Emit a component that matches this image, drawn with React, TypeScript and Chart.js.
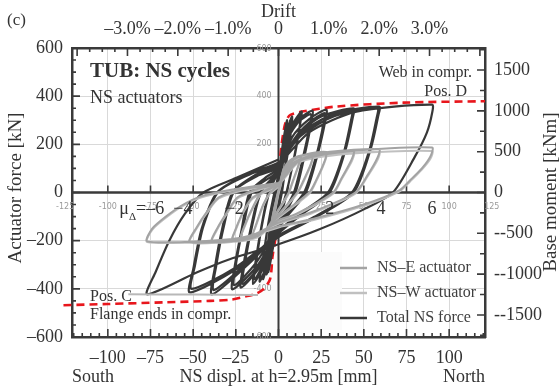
import React, { useEffect, useRef } from "react";
import { Chart, registerables } from "chart.js";

Chart.register(...registerables);

const SERIF = "'Liberation Serif', 'Times New Roman', serif";
const SANS = "'DejaVu Sans', sans-serif";
const MM_PER_PERCENT_DRIFT = 29.5; // 1% of h = 2.95 m
const LEVER_ARM_M = 2.95;

// ---- axis ticks ----
const xTicksMM = [-100, -75, -50, -25, 0, 25, 50, 75, 100];
const yTicksKN = [-600, -400, -200, 0, 200, 400, 600];
const momentTicks = [-1500, -1000, -500, 0, 500, 1000, 1500];
const driftTicks = [-3, -2, -1, 0, 1, 2, 3];
const ghostXTicks = [-125, -100, -75, -50, -25, 25, 50, 75, 100, 125];
const ghostYTicks = [600, 400, 200, -400, -600];

// ---- ductility labels ----
const ductilityLabels = ["−4", "−2", "2", "4", "6"];
const ductilityDispl = [-56, -26, 30, 60, 90];
const ductilityFirstLabelEnd = -67;

// ---- Total NS force [mm, kN] ----
const totalNS: [number, number][] = [
  [0, 0], [1, 90], [2, 160], [1, 60], [0, 10], [-1, -70], [-2.5, -170], [-1.5, -80], [0, -10],
  [1.5, 110], [3, 220], [5, 290], [3.5, 180], [1.5, 60], [0, -20], [-2, -150], [-4, -260], [-6, -330], [-4.5, -220], [-2.5, -100], [0, 30],
  [2, 150], [5, 260], [8, 315], [6.5, 210], [4, 100], [2, 0], [0, -70], [-4, -230], [-9, -360], [-7, -250], [-4.5, -120], [-2, 0], [0, 80],
  [3, 190], [6, 280], [7, 300], [5.5, 200], [3, 60], [1, -30], [0, -90], [-5, -260], [-11, -370], [-9, -270], [-6, -130], [-3, -20], [0, 70],
  [2.5, 200], [5, 300], [4, 230], [2, 100], [0, -40], [-3, -220], [-7, -340], [-5.5, -240], [-3, -90], [-1, 20], [0, 60],
  [4, 200], [8, 280], [13.5, 336], [13, 300], [10, 170], [6, 40], [5, 0], [0, -130], [-8, -300], [-15, -380], [-13.5, -290], [-10, -140], [-6, 0], [-3, 60], [0, 100],
  [5, 210], [10, 290], [13, 320], [12.5, 280], [9, 140], [5, 10], [0, -110], [-7, -270], [-14, -360], [-12.5, -260], [-9, -110], [-5, 10], [0, 90],
  [7, 250], [13, 310], [20, 340], [19.5, 300], [15.5, 160], [10, 0], [3, -100], [0, -140], [-10, -300], [-22, -395], [-20.5, -300], [-16, -140], [-11, 0], [-5, 50], [0, 85],
  [6, 230], [12, 295], [19, 325], [18.5, 285], [14.5, 150], [9, 0], [2, -95], [0, -125], [-9, -285], [-21, -380], [-19.5, -285], [-15, -125], [-10, 5], [0, 80],
  [8, 230], [18, 305], [28, 344], [27.5, 300], [23, 160], [16, 0], [5, -100], [0, -150], [-12, -300], [-27, -402], [-25.5, -300], [-21.5, -150], [-17, 0], [-8, 60], [0, 100],
  [9, 220], [18, 290], [27, 330], [26.5, 290], [22, 150], [15, 0], [4, -95], [0, -140], [-13, -290], [-26, -385], [-24.5, -280], [-20, -120], [-15, 10], [0, 90],
  [10, 230], [25, 315], [44, 349], [43.5, 310], [39, 170], [30, 0], [12, -100], [0, -170], [-18, -300], [-39, -423], [-37.5, -320], [-33, -150], [-27, 0], [-13, 75], [0, 115],
  [11, 225], [26, 305], [43, 338], [42.5, 300], [38, 160], [29, 0], [11, -95], [0, -160], [-19, -295], [-38, -405], [-36.5, -305], [-32, -140], [-26, 5], [-12, 70], [0, 105],
  [12, 240], [32, 325], [59, 357], [58.5, 320], [54, 180], [44, 0], [20, -110], [0, -185], [-25, -320], [-52, -415], [-50, -320], [-45, -150], [-36, 0], [-17, 80], [0, 125],
  [13, 235], [33, 318], [58, 348], [57.5, 310], [53, 170], [43, 0], [20, -105], [0, -178], [-26, -315], [-51, -400], [-49, -305], [-44, -140], [-35, 5], [-16, 78], [0, 120],
  [18, 250], [45, 335], [90, 365], [90, 330], [87, 250], [80, 150], [67, 0], [50, -70], [24, -153], [0, -215],
  [-29, -278], [-48, -332], [-77, -423], [-72, -330], [-64, -200], [-55, -90], [-44, 0], [-25, 60], [0, 137],
];

// ---- NS-E actuator [mm, kN] ----
const nsE: [number, number][] = [
  [0, 0], [1.5, 60], [3, 100], [1.5, 40], [0, 0], [-2, -70], [-4, -120], [-2, -50], [0, 10],
  [4, 110], [8, 140], [13, 152], [12, 120], [8, 40], [6, 0], [0, -70], [-7, -150], [-15, -178], [-13, -130], [-9, -50], [-5, 0], [0, 30],
  [6, 120], [12, 150], [20, 160], [19, 120], [14, 40], [11, 0], [0, -90], [-10, -170], [-22, -190], [-20, -140], [-15, -60], [-10, 0], [0, 35],
  [8, 130], [16, 158], [28, 168], [27, 130], [22, 50], [18, 0], [0, -100], [-12, -180], [-27, -200], [-25, -150], [-20, -70], [-15, -20], [-5, 15], [0, 35],
  [8, 120], [22, 160], [44, 174], [43, 140], [37, 60], [32, 0], [10, -90], [0, -115], [-15, -185], [-39, -205], [-36, -150], [-30, -80], [-24, -20], [-12, 15], [0, 40],
  [10, 125], [28, 165], [59, 180], [58, 145], [52, 70], [45, 0], [20, -80], [0, -125], [-20, -190], [-52, -206], [-48, -145], [-42, -80], [-35, -20], [-20, 15], [0, 40],
  [12, 130], [40, 170], [90, 187], [89, 150], [84, 100], [77, 50], [71, 10], [50, -50], [20, -110], [0, -140], [-20, -185], [-40, -200], [-77, -203],
  [-74, -150], [-66, -100], [-57, -55], [-46, -17], [-27, 12], [0, 40],
];

// ---- NS-W actuator [mm, kN] ----
const nsW: [number, number][] = [
  [0, 0], [1.5, 55], [3, 95], [1.5, 35], [0, -5], [-2, -75], [-4, -125], [-2, -55], [0, 5],
  [4, 100], [8, 135], [13, 148], [12, 115], [8, 35], [6, -5], [0, -75], [-7, -155], [-15, -182], [-13, -135], [-9, -55], [-5, -5], [0, 25],
  [6, 115], [12, 145], [20, 155], [19, 115], [14, 35], [11, -5], [0, -95], [-10, -175], [-22, -195], [-20, -145], [-15, -65], [-10, -5], [0, 30],
  [8, 125], [16, 150], [28, 160], [27, 125], [22, 45], [18, -5], [0, -105], [-12, -185], [-27, -203], [-25, -155], [-20, -75], [-15, -25], [-5, 10], [0, 30],
  [8, 115], [22, 152], [44, 165], [43, 130], [37, 55], [32, -5], [10, -95], [0, -120], [-15, -190], [-39, -207], [-36, -155], [-30, -85], [-24, -25], [-12, 10], [0, 35],
  [10, 120], [28, 155], [59, 168], [58, 135], [52, 65], [45, -5], [20, -85], [0, -130], [-20, -195], [-52, -208], [-48, -150], [-42, -85], [-35, -25], [-20, 10], [0, 35],
  [12, 125], [40, 160], [90, 172], [89, 140], [84, 95], [77, 45], [71, 5], [50, -55], [20, -115], [0, -145], [-20, -190], [-40, -204], [-77, -206],
  [-74, -155], [-66, -105], [-57, -60], [-46, -22], [-27, 8], [0, 35],
];

// ---- light reference line at Pos. C level ----
const posCLine: [number, number][] = [[-88, -423], [-50, -424], [-12, -426]];

// ---- Red dashed capacity envelope ----
const envelope: [number, number][] = [
  [-126, -468], [-100, -463], [-66, -456], [-40, -450], [-27, -444], [-19, -431], [-13, -420], [-9, -402],
  [-5, -361], [-3.5, -265], [-2, -200], [-0.6, -141], [0.2, -30], [0.6, 108], [1.7, 191], [3.5, 274],
  [5, 305], [7, 322], [14, 336], [34, 357], [73, 373], [121, 379],
];

const toXY = (arr: [number, number][]) => arr.map(([x, y]) => ({ x, y }));
const enDash = (v: number) => (v < 0 ? "\u2013" + Math.abs(v) : String(v));

const DARK = "#383838";
const GRAY_E = "#a3a3a3";
const GRAY_W = "#c0c0c0";
const FRAME = "#3a3a3a";
const TEXT = "#333333";

const legendItems = [
  { label: "NS\u2013E actuator", color: GRAY_E },
  { label: "NS\u2013W actuator", color: GRAY_W },
  { label: "Total NS force", color: DARK },
];

const annotationPlugin = {
  id: "annotations",
  beforeDatasetsDraw(chart: any) {
    const { ctx, chartArea, scales } = chart;
    const { left, right, top, bottom } = chartArea;
    const x = scales.x, y = scales.y;
    ctx.save();
    ctx.fillStyle = "#fbfbfb";
    ctx.fillRect(260, 252, 82, 78);
    ctx.strokeStyle = FRAME;
    ctx.lineWidth = 2.5;
    const y0 = y.getPixelForValue(0);
    const x0 = x.getPixelForValue(0);
    ctx.beginPath();
    ctx.moveTo(left, y0); ctx.lineTo(right, y0);
    ctx.stroke();
    ctx.lineWidth = 2;
    ctx.beginPath();
    ctx.moveTo(x0, top); ctx.lineTo(x0, bottom);
    ctx.stroke();
    ctx.lineWidth = 1.6;
    ctx.beginPath();
    xTicksMM.forEach((v) => {
      if (v === 0) return;
      const px = x.getPixelForValue(v);
      ctx.moveTo(px, y0); ctx.lineTo(px, y0 - 7);
    });
    ctx.stroke();
    ctx.fillStyle = "#9a9a9a";
    ctx.font = `8px ${SANS}`;
    ctx.textAlign = "center";
    ctx.textBaseline = "middle";
    ghostXTicks.forEach((v) => {
      ctx.fillText(String(v), x.getPixelForValue(v), 207);
    });
    ctx.textAlign = "right";
    ghostYTicks.forEach((v) => {
      ctx.fillText(String(v), x.getPixelForValue(-4), y.getPixelForValue(v) + (v === 600 ? 1 : 0));
    });
    ctx.restore();
  },
  afterDraw(chart: any) {
    const { ctx, chartArea, scales } = chart;
    const { left, right, top, bottom } = chartArea;
    const x = scales.x, y = scales.y, x2 = scales.x2, y2 = scales.y2;
    ctx.save();
    ctx.strokeStyle = FRAME;
    ctx.lineWidth = 1.6;
    ctx.beginPath();
    for (let v = -120; v <= 120; v += 5) {
      const px = x.getPixelForValue(v);
      const len = v % 25 === 0 ? 8 : 4;
      ctx.moveTo(px, bottom); ctx.lineTo(px, bottom - len);
    }
    for (let v = -4; v <= 4.001; v += 0.25) {
      const px = x2.getPixelForValue(v);
      if (px < left + 1 || px > right - 1) continue;
      const len = Math.abs(v - Math.round(v)) < 1e-6 ? 8 : 4;
      ctx.moveTo(px, top); ctx.lineTo(px, top + len);
    }
    for (let v = -600; v <= 600; v += 50) {
      const py = y.getPixelForValue(v);
      const len = v % 200 === 0 ? 8 : 4;
      ctx.moveTo(left, py); ctx.lineTo(left + len, py);
    }
    for (let v = -1750; v <= 1750; v += 250) {
      const py = y2.getPixelForValue(v);
      const len = v % 500 === 0 ? 8 : 5;
      ctx.moveTo(right, py); ctx.lineTo(right - len, py);
    }
    ctx.stroke();

    ctx.fillStyle = TEXT;
    ctx.textBaseline = "middle";
    ctx.font = `17px ${SERIF}`;
    ctx.textAlign = "left";
    ctx.fillText("(c)", 7, 21);
    ctx.font = `18px ${SERIF}`;
    ctx.textAlign = "center";
    ctx.fillText("Drift", x.getPixelForValue(0), 12);

    ctx.textAlign = "left";
    ctx.fillText("South", left, 377);
    ctx.textAlign = "center";
    ctx.fillText("NS displ. at h=2.95m [mm]", x.getPixelForValue(0), 377);
    ctx.textAlign = "right";
    ctx.fillText("North", right, 377);

    ctx.save();
    ctx.translate(16, 188);
    ctx.rotate(-Math.PI / 2);
    ctx.textAlign = "center";
    ctx.font = `19px ${SERIF}`;
    ctx.fillText("Actuator force [kN]", 0, 0);
    ctx.restore();
    ctx.save();
    ctx.translate(551, 192);
    ctx.rotate(-Math.PI / 2);
    ctx.textAlign = "center";
    ctx.font = `19px ${SERIF}`;
    ctx.fillText("Base moment [kNm]", 0, 0);
    ctx.restore();

    ctx.textAlign = "left";
    ctx.font = `bold 21px ${SERIF}`;
    ctx.fillText("TUB: NS cycles", 90, 72);
    ctx.font = `18px ${SERIF}`;
    ctx.fillText("NS actuators", 90, 98);
    ctx.font = `16px ${SERIF}`;
    ctx.fillText("Pos. C", 90, 297);
    ctx.fillText("Flange ends in compr.", 90, 315);
    ctx.textAlign = "right";
    ctx.fillText("Web in compr.", 472, 73);
    ctx.fillText("Pos. D", 467, 92);

    const yd = 209;
    ctx.font = `18px ${SERIF}`;
    ctx.textAlign = "right";
    const endPx = x.getPixelForValue(ductilityFirstLabelEnd);
    ctx.fillText("=\u20136", endPx, yd);
    const wEq = ctx.measureText("=\u20136").width;
    ctx.font = `11px ${SERIF}`;
    const wDelta = ctx.measureText("\u0394").width;
    ctx.fillText("\u0394", endPx - wEq, yd + 8);
    ctx.font = `18px ${SERIF}`;
    ctx.fillText("\u03bc", endPx - wEq - wDelta, yd);
    ctx.textAlign = "center";
    ductilityLabels.forEach((t, i) => {
      ctx.fillText(t, x.getPixelForValue(ductilityDispl[i]), yd);
    });

    ctx.font = `16px ${SERIF}`;
    ctx.textAlign = "left";
    legendItems.forEach((it, i) => {
      const ly = 268 + i * 25;
      ctx.strokeStyle = it.color;
      ctx.lineWidth = 2.5;
      ctx.beginPath();
      ctx.moveTo(340, ly); ctx.lineTo(367, ly);
      ctx.stroke();
      ctx.fillStyle = "#404040";
      ctx.fillText(it.label, 377, ly);
    });
    ctx.restore();
  },
};

export default function App() {
  const ref = useRef<HTMLCanvasElement | null>(null);
  useEffect(() => {
    document.body.style.margin = "0";
    const canvas = ref.current;
    if (!canvas) return;
    const xMax = 121;
    const yMax = 600;
    const tickFont = { family: SERIF, size: 18 };
    const chart = new Chart(canvas, {
      type: "scatter",
      data: {
        datasets: [
          { label: "NS-E actuator", data: toXY(nsE), showLine: true, borderColor: GRAY_E, borderWidth: 2, pointRadius: 0, tension: 0.25 },
          { label: "NS-W actuator", data: toXY(nsW), showLine: true, borderColor: GRAY_W, borderWidth: 2, pointRadius: 0, tension: 0.25 },
          { label: "Pos C", data: toXY(posCLine), showLine: true, borderColor: "#b8b8b8", borderWidth: 2, pointRadius: 0, tension: 0.2 },
          { label: "Total NS force", data: toXY(totalNS), showLine: true, borderColor: DARK, borderWidth: 2.2, pointRadius: 0, tension: 0.25 },
          { label: "Envelope", data: toXY(envelope), showLine: true, borderColor: "#e8161c", borderWidth: 2.6, borderDash: [8, 5], pointRadius: 0, tension: 0.3, clip: false } as any,
        ],
      },
      options: {
        animation: false,
        responsive: false,
        maintainAspectRatio: false,
        layout: { padding: 0 },
        plugins: { legend: { display: false }, tooltip: { enabled: false } },
        scales: {
          x: {
            type: "linear", position: "bottom", min: -xMax, max: xMax,
            afterBuildTicks: (s: any) => { s.ticks = xTicksMM.map((v) => ({ value: v })); },
            afterFit: (s: any) => { s.height = 54; },
            ticks: { font: tickFont, color: TEXT, padding: 10, callback: (v: any) => enDash(Number(v)), maxRotation: 0, autoSkip: false },
            grid: { drawTicks: false, color: (c: any) => (c.tick && c.tick.value === 0 ? "rgba(0,0,0,0)" : "#d9d9d9"), lineWidth: 1 },
            border: { display: true, color: FRAME, width: 2.5 },
          },
          x2: {
            type: "linear", position: "top", min: -xMax / MM_PER_PERCENT_DRIFT, max: xMax / MM_PER_PERCENT_DRIFT,
            afterBuildTicks: (s: any) => { s.ticks = driftTicks.map((v) => ({ value: v })); },
            afterFit: (s: any) => { s.height = 48; },
            ticks: { font: tickFont, color: TEXT, padding: 8, maxRotation: 0, autoSkip: false,
              callback: (v: any) => (Number(v) === 0 ? "0" : (Number(v) < 0 ? "\u2013" : "") + Math.abs(Number(v)).toFixed(1) + "%") },
            grid: { display: false, drawTicks: false },
            border: { display: true, color: FRAME, width: 2.5 },
          },
          y: {
            type: "linear", position: "left", min: -yMax, max: yMax,
            afterBuildTicks: (s: any) => { s.ticks = yTicksKN.map((v) => ({ value: v })); },
            afterFit: (s: any) => { s.width = 72; },
            ticks: { font: tickFont, color: TEXT, padding: 9, callback: (v: any) => enDash(Number(v)) },
            grid: { drawTicks: false, color: (c: any) => (c.tick && (c.tick.value === 0 || Math.abs(c.tick.value) === 600) ? "rgba(0,0,0,0)" : "#d9d9d9"), lineWidth: 1 },
            border: { display: true, color: FRAME, width: 2.5 },
          },
          y2: {
            type: "linear", position: "right", min: -yMax * LEVER_ARM_M, max: yMax * LEVER_ARM_M,
            afterBuildTicks: (s: any) => { s.ticks = momentTicks.map((v) => ({ value: v })); },
            afterFit: (s: any) => { s.width = 75; },
            ticks: { font: tickFont, color: TEXT, padding: 9, callback: (v: any) => (Number(v) < 0 ? "--" + Math.abs(Number(v)) : String(v)) },
            grid: { display: false, drawTicks: false },
            border: { display: true, color: FRAME, width: 2.5 },
          },
        },
      },
      plugins: [annotationPlugin],
    });
    return () => chart.destroy();
  }, []);
  return (
    <div style={{ width: 560, height: 391 }}>
      <canvas ref={ref} width={560} height={391} style={{ display: "block" }} />
    </div>
  );
}
